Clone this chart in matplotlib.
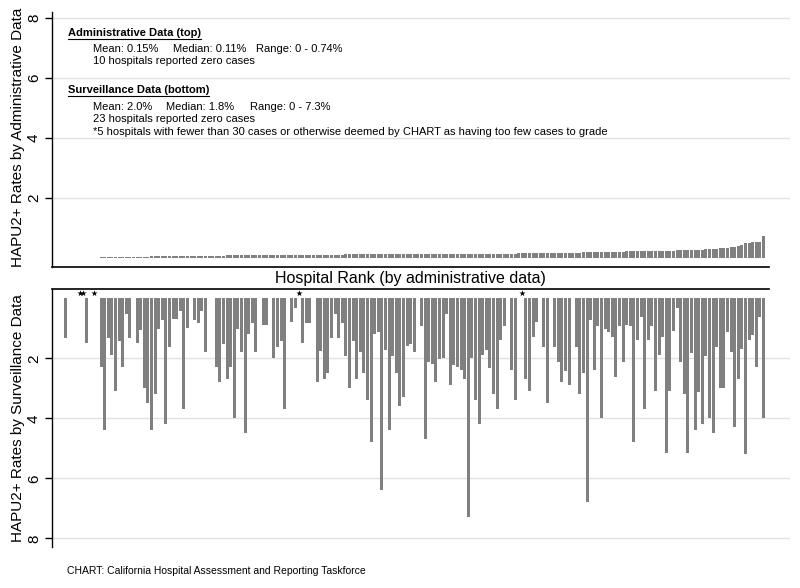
import numpy as np
import matplotlib
matplotlib.use("Agg")
import matplotlib.pyplot as plt
from matplotlib.lines import Line2D

plt.rcParams['font.family'] = ['Liberation Sans', 'DejaVu Sans']

# hospitals ranked by the administrative HAPU2+ rate (ascending)
admin_rate = [
    0.00, 0.00, 0.00, 0.00, 0.00, 0.00, 0.00, 0.00, 0.00, 0.00,
    0.02, 0.02, 0.02, 0.03, 0.03, 0.03, 0.03, 0.03, 0.04, 0.04,
    0.04, 0.04, 0.04, 0.04, 0.05, 0.05, 0.05, 0.05, 0.05, 0.05,
    0.06, 0.06, 0.06, 0.06, 0.06, 0.06, 0.06, 0.07, 0.07, 0.07,
    0.07, 0.07, 0.07, 0.07, 0.07, 0.08, 0.08, 0.08, 0.08, 0.08,
    0.08, 0.08, 0.08, 0.08, 0.08, 0.09, 0.09, 0.09, 0.09, 0.09,
    0.09, 0.09, 0.09, 0.09, 0.09, 0.10, 0.10, 0.10, 0.10, 0.10,
    0.10, 0.10, 0.10, 0.10, 0.10, 0.10, 0.10, 0.10, 0.11, 0.11,
    0.11, 0.11, 0.11, 0.11, 0.11, 0.11, 0.11, 0.11, 0.11, 0.11,
    0.11, 0.11, 0.11, 0.11, 0.11, 0.11, 0.11, 0.11, 0.11, 0.11,
    0.12, 0.12, 0.12, 0.12, 0.12, 0.12, 0.12, 0.12, 0.12, 0.12,
    0.13, 0.13, 0.13, 0.13, 0.13, 0.13, 0.13, 0.13, 0.13, 0.14,
    0.14, 0.14, 0.14, 0.14, 0.14, 0.14, 0.15, 0.15, 0.15, 0.15,
    0.15, 0.15, 0.15, 0.16, 0.16, 0.16, 0.16, 0.16, 0.16, 0.17,
    0.17, 0.17, 0.17, 0.17, 0.18, 0.18, 0.18, 0.18, 0.19, 0.19,
    0.19, 0.19, 0.20, 0.20, 0.20, 0.20, 0.21, 0.21, 0.21, 0.21,
    0.22, 0.22, 0.22, 0.23, 0.23, 0.23, 0.23, 0.24, 0.24, 0.24,
    0.25, 0.25, 0.25, 0.26, 0.26,
    0.26, 0.27, 0.27, 0.28, 0.28, 0.29, 0.30, 0.31, 0.32, 0.33, 0.35,
    0.37, 0.40, 0.44, 0.48, 0.50, 0.51, 0.51, 0.52, 0.74,
]

# surveillance rate for the same hospitals (None = too few cases to grade)
surv_rate = [
    1.31, 0, 0, 0, None, None, 1.50, 0, None, 0,
    2.30, 4.40, 1.33, 1.90, 3.09, 1.42, 2.30, 0.52, 1.31, 0,
    1.50, 1.05, 3.00, 3.50, 4.40, 3.20, 1.02, 0.72, 4.20, 1.61,
    0.70, 0.70, 0.42, 3.70, 1.00, 0, 0.71, 0.82, 0.42, 1.80,
    0, 0, 2.30, 2.80, 1.53, 2.70, 2.30, 4.00, 1.02, 1.80,
    4.50, 1.20, 0.81, 1.80, 0, 0.90, 0.90, 0, 2.00, 1.61,
    1.42, 3.70, 0, 0.80, 0.33, None, 1.50, 0.82, 0.82, 0,
    2.80, 1.75, 2.70, 2.50, 1.32, 0.53, 1.31, 0.82, 1.93, 3.00,
    1.42, 2.70, 1.79, 2.50, 3.40, 4.79, 1.18, 1.12, 6.40, 1.72,
    4.39, 1.92, 2.48, 3.59, 3.28, 1.60, 1.52, 1.80, 0, 0.91,
    4.69, 2.13, 2.20, 2.80, 2.03, 2.00, 0.53, 2.89, 2.22, 2.28,
    2.39, 2.70, 7.28, 2.00, 3.39, 4.19, 1.90, 1.73, 2.31, 3.20,
    3.70, 1.40, 0.91, 0, 2.40, 3.39, 0, None, 2.70, 3.09,
    1.30, 0.80, 0, 1.61, 3.50, 0, 1.61, 2.11, 2.80, 2.41,
    2.89, 0, 1.61, 3.19, 2.50, 6.78, 0.72, 2.39, 0.91, 4.00,
    1.03, 1.11, 1.30, 2.61, 0.92, 2.11, 0.90, 0.93, 4.79, 1.40,
    0.62, 3.70, 1.40, 0.92, 3.09, 1.90, 1.30, 5.17, 3.09, 1.10,
    0.31, 2.11, 3.20, 5.17, 1.83, 4.39, 3.11, 4.19, 1.92, 4.00,
    4.50, 1.61, 3.00, 3.00, 1.11, 1.80, 4.30, 2.70, 1.70, 5.19,
    1.39, 1.22, 2.30, 0.61, 4.00,
]

yticks = [2, 4, 6, 8]
admin_notes = ["Mean: 0.15%", "Median: 0.11%", "Range: 0 - 0.74%"]
surv_notes = ["Mean: 2.0%", "Median: 1.8%", "Range: 0 - 7.3%"]

rank = np.arange(1, len(admin_rate) + 1)
surv = np.array([np.nan if v is None else v for v in surv_rate])
ungraded = rank[np.isnan(surv)]

W, H = 800, 588
fig = plt.figure(figsize=(8, 5.88), dpi=100)
bar_col = "#808080"
grid_col = "#e2e2e2"

def px(x, y):
    return x / W, 1 - y / H

ax1 = fig.add_axes([52 / W, 1 - 267 / H, 738 / W, 255 / H])
ax2 = fig.add_axes([52 / W, 1 - 547 / H, 738 / W, 258 / H])

ax1.bar(rank, admin_rate, width=0.8, color=bar_col, linewidth=0, zorder=2)
ax2.bar(rank, np.nan_to_num(surv), width=0.8, color=bar_col, linewidth=0, zorder=2)
# star marks for hospitals with too few cases to grade
ax2.scatter(ungraded, np.full(len(ungraded), -0.17), marker="*", s=22,
            color="black", linewidths=0, zorder=3, clip_on=False)

ax1.set_ylim(-0.31, 8.19)
ax2.set_ylim(8.29, -0.31)
for ax in (ax1, ax2):
    ax.set_xlim(-2.64, 202.36)
    ax.set_yticks(yticks)
    ax.yaxis.grid(True, color=grid_col, linewidth=1)
    ax.set_axisbelow(True)
    ax.set_xticks([])
    for s in ("top", "right", "bottom"):
        ax.spines[s].set_visible(False)
    ax.spines["left"].set_linewidth(1.0)
    ax.tick_params(axis="y", labelrotation=90, labelsize=11, length=5, width=1, pad=3)
    for lab in ax.get_yticklabels():
        lab.set_va("center")

ax1.axhline(-0.31, xmin=0, xmax=717 / 738, color="black", linewidth=1.2, clip_on=False)
ax2.axhline(-0.31, xmin=0, xmax=717 / 738, color="black", linewidth=1.2, clip_on=False)

fig.text(*px(410, 278), "Hospital Rank (by administrative data)", ha="center", va="center", fontsize=11.5)
fig.text(*px(18, 137), "HAPU2+ Rates by Administrative Data", rotation=90, ha="center", va="center", fontsize=11)
fig.text(*px(18, 418), "HAPU2+ Rates by Surveillance Data", rotation=90, ha="center", va="center", fontsize=11)

heads = []
heads.append(fig.text(*px(68, 33), "Administrative Data (top)", fontsize=8, fontweight="bold", va="center"))
for x, s in zip([93, 173, 256], admin_notes):
    fig.text(*px(x, 49), s, fontsize=8, va="center")
fig.text(*px(93, 61), "10 hospitals reported zero cases", fontsize=8, va="center")
heads.append(fig.text(*px(68, 90), "Surveillance Data (bottom)", fontsize=8, fontweight="bold", va="center"))
for x, s in zip([93, 166, 250], surv_notes):
    fig.text(*px(x, 107), s, fontsize=8, va="center")
fig.text(*px(93, 119), "23 hospitals reported zero cases", fontsize=8, va="center")
fig.text(*px(93, 132), "*5 hospitals with fewer than 30 cases or otherwise deemed by CHART as having too few cases to grade",
         fontsize=8, va="center")

fig.text(*px(67, 571), "CHART: California Hospital Assessment and Reporting Taskforce", fontsize=7.5, va="center")

# underline the two headings
fig.canvas.draw()
rend = fig.canvas.get_renderer()
for t in heads:
    bb = t.get_window_extent(rend)
    yy = (bb.y0 - 1) / H
    fig.add_artist(Line2D([bb.x0 / W, bb.x1 / W], [yy, yy], color="black", linewidth=0.8))

fig.savefig("out.png", dpi=100)
